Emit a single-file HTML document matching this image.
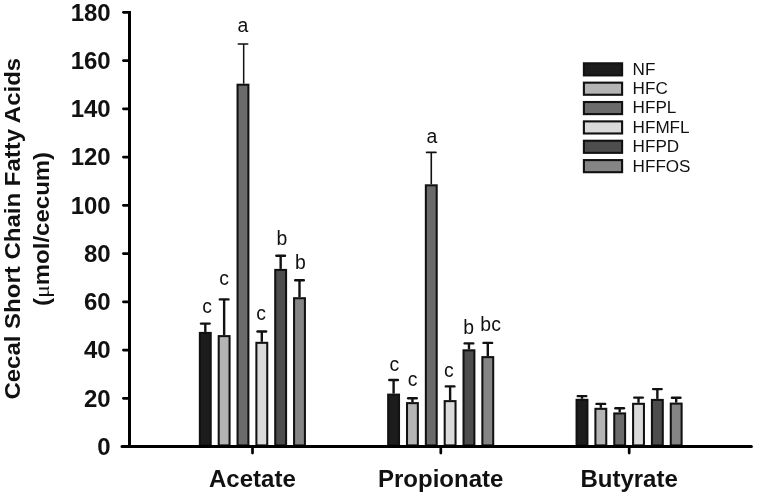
<!DOCTYPE html>
<html lang="en"><head><meta charset="utf-8"><title>Cecal Short Chain Fatty Acids</title>
<style>
html,body{margin:0;padding:0;background:#fff;}
svg{display:block}
text{font-family:"Liberation Sans",Arial,Helvetica,sans-serif;fill:#111}
.b{font-weight:bold}
</style></head><body>
<svg width="757" height="495" viewBox="0 0 757 495">
<rect width="757" height="495" fill="#fff"/>
<line x1="205.30" y1="323.60" x2="205.30" y2="331.90" stroke="#111" stroke-width="2.4"/>
<line x1="201.00" y1="323.60" x2="209.60" y2="323.60" stroke="#111" stroke-width="2.4" stroke-linecap="round"/>
<rect x="199.87" y="332.92" width="10.85" height="112.48" fill="#1c1c1c" stroke="#111" stroke-width="2.05"/>
<text x="207.00" y="312.60" font-size="19.4" text-anchor="middle">c</text>
<line x1="224.14" y1="299.40" x2="224.14" y2="335.10" stroke="#111" stroke-width="2.4"/>
<line x1="219.84" y1="299.40" x2="228.44" y2="299.40" stroke="#111" stroke-width="2.4" stroke-linecap="round"/>
<rect x="218.71" y="336.12" width="10.85" height="109.28" fill="#b4b4b4" stroke="#111" stroke-width="2.05"/>
<text x="224.20" y="284.80" font-size="19.4" text-anchor="middle">c</text>
<line x1="243.68" y1="44.00" x2="243.68" y2="83.70" stroke="#111" stroke-width="1.5"/>
<line x1="238.23" y1="44.00" x2="247.73" y2="44.00" stroke="#111" stroke-width="1.5" stroke-linecap="round"/>
<rect x="237.55" y="84.72" width="10.85" height="360.68" fill="#6b6b6b" stroke="#111" stroke-width="2.05"/>
<text x="243.00" y="31.90" font-size="19.4" text-anchor="middle">a</text>
<line x1="261.82" y1="331.50" x2="261.82" y2="341.80" stroke="#111" stroke-width="2.4"/>
<line x1="257.52" y1="331.50" x2="266.12" y2="331.50" stroke="#111" stroke-width="2.4" stroke-linecap="round"/>
<rect x="256.39" y="342.82" width="10.85" height="102.58" fill="#dadada" stroke="#111" stroke-width="2.05"/>
<text x="261.10" y="319.80" font-size="19.4" text-anchor="middle">c</text>
<line x1="280.66" y1="255.80" x2="280.66" y2="268.90" stroke="#111" stroke-width="2.4"/>
<line x1="276.36" y1="255.80" x2="284.96" y2="255.80" stroke="#111" stroke-width="2.4" stroke-linecap="round"/>
<rect x="275.23" y="269.92" width="10.85" height="175.48" fill="#4d4d4d" stroke="#111" stroke-width="2.05"/>
<text x="281.90" y="244.80" font-size="19.4" text-anchor="middle">b</text>
<line x1="299.50" y1="280.30" x2="299.50" y2="297.20" stroke="#111" stroke-width="2.4"/>
<line x1="295.20" y1="280.30" x2="303.80" y2="280.30" stroke="#111" stroke-width="2.4" stroke-linecap="round"/>
<rect x="294.07" y="298.22" width="10.85" height="147.18" fill="#858585" stroke="#111" stroke-width="2.05"/>
<text x="300.40" y="268.70" font-size="19.4" text-anchor="middle">b</text>
<line x1="393.60" y1="380.00" x2="393.60" y2="393.60" stroke="#111" stroke-width="2.4"/>
<line x1="389.30" y1="380.00" x2="397.90" y2="380.00" stroke="#111" stroke-width="2.4" stroke-linecap="round"/>
<rect x="388.17" y="394.62" width="10.85" height="50.78" fill="#1c1c1c" stroke="#111" stroke-width="2.05"/>
<text x="394.40" y="370.70" font-size="19.4" text-anchor="middle">c</text>
<line x1="412.44" y1="398.20" x2="412.44" y2="402.10" stroke="#111" stroke-width="2.4"/>
<line x1="408.14" y1="398.20" x2="416.74" y2="398.20" stroke="#111" stroke-width="2.4" stroke-linecap="round"/>
<rect x="407.01" y="403.12" width="10.85" height="42.28" fill="#b4b4b4" stroke="#111" stroke-width="2.05"/>
<text x="412.60" y="386.30" font-size="19.4" text-anchor="middle">c</text>
<line x1="431.28" y1="152.40" x2="431.28" y2="184.30" stroke="#111" stroke-width="1.6"/>
<line x1="426.68" y1="152.40" x2="435.88" y2="152.40" stroke="#111" stroke-width="1.8" stroke-linecap="round"/>
<rect x="425.85" y="185.32" width="10.85" height="260.08" fill="#6b6b6b" stroke="#111" stroke-width="2.05"/>
<text x="432.00" y="142.90" font-size="19.4" text-anchor="middle">a</text>
<line x1="450.12" y1="386.40" x2="450.12" y2="400.10" stroke="#111" stroke-width="2.4"/>
<line x1="445.82" y1="386.40" x2="454.42" y2="386.40" stroke="#111" stroke-width="2.4" stroke-linecap="round"/>
<rect x="444.69" y="401.12" width="10.85" height="44.28" fill="#dadada" stroke="#111" stroke-width="2.05"/>
<text x="448.80" y="376.80" font-size="19.4" text-anchor="middle">c</text>
<line x1="468.96" y1="343.40" x2="468.96" y2="349.30" stroke="#111" stroke-width="2.4"/>
<line x1="464.66" y1="343.40" x2="473.26" y2="343.40" stroke="#111" stroke-width="2.4" stroke-linecap="round"/>
<rect x="463.53" y="350.32" width="10.85" height="95.08" fill="#4d4d4d" stroke="#111" stroke-width="2.05"/>
<text x="468.70" y="333.60" font-size="19.4" text-anchor="middle">b</text>
<line x1="487.80" y1="342.90" x2="487.80" y2="356.10" stroke="#111" stroke-width="2.4"/>
<line x1="483.50" y1="342.90" x2="492.10" y2="342.90" stroke="#111" stroke-width="2.4" stroke-linecap="round"/>
<rect x="482.37" y="357.12" width="10.85" height="88.28" fill="#858585" stroke="#111" stroke-width="2.05"/>
<text x="490.60" y="330.60" font-size="19.4" text-anchor="middle">bc</text>
<line x1="582.00" y1="396.10" x2="582.00" y2="398.80" stroke="#111" stroke-width="2.4"/>
<line x1="577.70" y1="396.10" x2="586.30" y2="396.10" stroke="#111" stroke-width="2.4" stroke-linecap="round"/>
<rect x="576.57" y="399.82" width="10.85" height="45.58" fill="#1c1c1c" stroke="#111" stroke-width="2.05"/>
<line x1="600.84" y1="403.90" x2="600.84" y2="407.80" stroke="#111" stroke-width="2.4"/>
<line x1="596.54" y1="403.90" x2="605.14" y2="403.90" stroke="#111" stroke-width="2.4" stroke-linecap="round"/>
<rect x="595.41" y="408.82" width="10.85" height="36.58" fill="#b4b4b4" stroke="#111" stroke-width="2.05"/>
<line x1="619.68" y1="408.30" x2="619.68" y2="412.40" stroke="#111" stroke-width="2.4"/>
<line x1="615.38" y1="408.30" x2="623.98" y2="408.30" stroke="#111" stroke-width="2.4" stroke-linecap="round"/>
<rect x="614.25" y="413.42" width="10.85" height="31.98" fill="#6b6b6b" stroke="#111" stroke-width="2.05"/>
<line x1="638.52" y1="397.60" x2="638.52" y2="402.80" stroke="#111" stroke-width="2.4"/>
<line x1="634.22" y1="397.60" x2="642.82" y2="397.60" stroke="#111" stroke-width="2.4" stroke-linecap="round"/>
<rect x="633.09" y="403.82" width="10.85" height="41.58" fill="#dadada" stroke="#111" stroke-width="2.05"/>
<line x1="657.36" y1="389.10" x2="657.36" y2="398.90" stroke="#111" stroke-width="2.4"/>
<line x1="653.06" y1="389.10" x2="661.66" y2="389.10" stroke="#111" stroke-width="2.4" stroke-linecap="round"/>
<rect x="651.93" y="399.92" width="10.85" height="45.48" fill="#4d4d4d" stroke="#111" stroke-width="2.05"/>
<line x1="676.20" y1="397.80" x2="676.20" y2="402.60" stroke="#111" stroke-width="2.4"/>
<line x1="671.90" y1="397.80" x2="680.50" y2="397.80" stroke="#111" stroke-width="2.4" stroke-linecap="round"/>
<rect x="670.77" y="403.62" width="10.85" height="41.78" fill="#858585" stroke="#111" stroke-width="2.05"/>
<line x1="129.5" y1="11.0" x2="129.5" y2="448.1" stroke="#000" stroke-width="3"/>
<line x1="122" y1="446.6" x2="751.4" y2="446.6" stroke="#000" stroke-width="3" stroke-linecap="round"/>
<text class="b" x="110.7" y="454.85" font-size="24" text-anchor="end">0</text>
<line x1="123.4" y1="398.35" x2="129.5" y2="398.35" stroke="#000" stroke-width="2.7" stroke-linecap="round"/>
<text class="b" x="110.7" y="406.60" font-size="24" text-anchor="end">20</text>
<line x1="123.4" y1="350.10" x2="129.5" y2="350.10" stroke="#000" stroke-width="2.7" stroke-linecap="round"/>
<text class="b" x="110.7" y="358.35" font-size="24" text-anchor="end">40</text>
<line x1="123.4" y1="301.85" x2="129.5" y2="301.85" stroke="#000" stroke-width="2.7" stroke-linecap="round"/>
<text class="b" x="110.7" y="310.10" font-size="24" text-anchor="end">60</text>
<line x1="123.4" y1="253.60" x2="129.5" y2="253.60" stroke="#000" stroke-width="2.7" stroke-linecap="round"/>
<text class="b" x="110.7" y="261.85" font-size="24" text-anchor="end">80</text>
<line x1="123.4" y1="205.35" x2="129.5" y2="205.35" stroke="#000" stroke-width="2.7" stroke-linecap="round"/>
<text class="b" x="110.7" y="213.60" font-size="24" text-anchor="end">100</text>
<line x1="123.4" y1="157.10" x2="129.5" y2="157.10" stroke="#000" stroke-width="2.7" stroke-linecap="round"/>
<text class="b" x="110.7" y="165.35" font-size="24" text-anchor="end">120</text>
<line x1="123.4" y1="108.85" x2="129.5" y2="108.85" stroke="#000" stroke-width="2.7" stroke-linecap="round"/>
<text class="b" x="110.7" y="117.10" font-size="24" text-anchor="end">140</text>
<line x1="123.4" y1="60.60" x2="129.5" y2="60.60" stroke="#000" stroke-width="2.7" stroke-linecap="round"/>
<text class="b" x="110.7" y="68.85" font-size="24" text-anchor="end">160</text>
<line x1="123.4" y1="12.35" x2="129.5" y2="12.35" stroke="#000" stroke-width="2.7" stroke-linecap="round"/>
<text class="b" x="110.7" y="20.60" font-size="24" text-anchor="end">180</text>
<line x1="252.5" y1="446.6" x2="252.5" y2="453.1" stroke="#000" stroke-width="2.7" stroke-linecap="round"/>
<text class="b" x="252.4" y="486.8" font-size="24" text-anchor="middle">Acetate</text>
<line x1="440.8" y1="446.6" x2="440.8" y2="453.1" stroke="#000" stroke-width="2.7" stroke-linecap="round"/>
<text class="b" x="440.7" y="486.8" font-size="24" text-anchor="middle">Propionate</text>
<line x1="629.2" y1="446.6" x2="629.2" y2="453.1" stroke="#000" stroke-width="2.7" stroke-linecap="round"/>
<text class="b" x="629.1" y="486.8" font-size="24" text-anchor="middle">Butyrate</text>
<text class="b" transform="translate(20.2 228.7) rotate(-90) scale(1.091 1)" font-size="22" text-anchor="middle">Cecal Short Chain Fatty Acids</text>
<text class="b" transform="translate(49 229) rotate(-90) scale(1.091 1)" font-size="22" text-anchor="middle">(<tspan font-weight="normal" font-family="Liberation Serif,serif">μ</tspan>mol/cecum)</text>
<rect x="583.9" y="63.30" width="38.2" height="12.1" fill="#1c1c1c" stroke="#111" stroke-width="2.1"/>
<text x="632.6" y="74.70" font-size="17.1">NF</text>
<rect x="583.9" y="82.66" width="38.2" height="12.1" fill="#b4b4b4" stroke="#111" stroke-width="2.1"/>
<text x="632.6" y="94.06" font-size="17.1">HFC</text>
<rect x="583.9" y="102.02" width="38.2" height="12.1" fill="#6b6b6b" stroke="#111" stroke-width="2.1"/>
<text x="632.6" y="113.42" font-size="17.1">HFPL</text>
<rect x="583.9" y="121.38" width="38.2" height="12.1" fill="#dadada" stroke="#111" stroke-width="2.1"/>
<text x="632.6" y="132.78" font-size="17.1">HFMFL</text>
<rect x="583.9" y="140.74" width="38.2" height="12.1" fill="#4d4d4d" stroke="#111" stroke-width="2.1"/>
<text x="632.6" y="152.14" font-size="17.1">HFPD</text>
<rect x="583.9" y="160.10" width="38.2" height="12.1" fill="#858585" stroke="#111" stroke-width="2.1"/>
<text x="632.6" y="171.50" font-size="17.1">HFFOS</text>
</svg></body></html>
